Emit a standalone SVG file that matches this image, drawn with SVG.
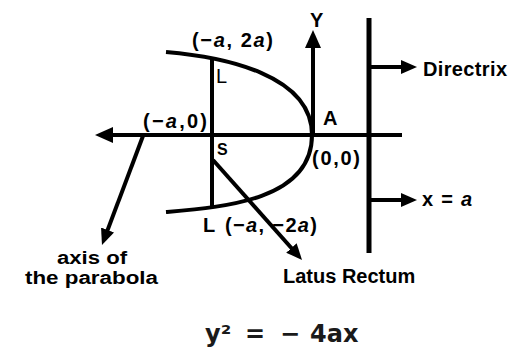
<svg xmlns="http://www.w3.org/2000/svg" width="515" height="351" viewBox="0 0 515 351">
<style>
.ln{stroke:#000;stroke-width:4;fill:none}
.lb{font-family:"Liberation Sans",Arial,sans-serif;font-weight:bold;font-size:20px;fill:#000}
.sm{font-size:18px}
.it{font-style:italic}
.eq{font-family:"DejaVu Sans",Verdana,sans-serif;font-weight:bold;font-size:24px;fill:#1a1a1a}
</style>
<defs>
<marker id="ah" markerUnits="userSpaceOnUse" markerWidth="17" markerHeight="14" refX="6" refY="7" orient="auto">
<path d="M0,0 L16,7 L0,14 Z" fill="#000"/>
</marker>
<marker id="ahb" markerUnits="userSpaceOnUse" markerWidth="19" markerHeight="16" refX="8" refY="8" orient="auto">
<path d="M0,0 L18,8 L0,16 Z" fill="#000"/>
</marker>
</defs>
<rect width="515" height="351" fill="#fff"/>
<g id="connectors">
<path class="ln" d="M402,135 L105,135" marker-end="url(#ahb)"/>
<path class="ln" d="M313,137 L313,40" marker-end="url(#ahb)"/>
<path class="ln" d="M143,136 L105.5,235.6" marker-end="url(#ah)"/>
<path class="ln" d="M213,160 L295.4,252.5" marker-end="url(#ah)"/>
<path class="ln" d="M369,67 L407,67" marker-end="url(#ah)"/>
<path class="ln" d="M369,200 L407,200" marker-end="url(#ah)"/>
</g>
<g id="parabola">
<path class="ln" d="M166,52 C225,57 312,75 312,135 C312,200 225,207 166,212"/>
</g>
<g id="latus-rectum-line">
<path class="ln" d="M212,57 L212,208"/>
</g>
<g id="directrix-line">
<path class="ln" style="stroke-width:5" d="M369,18 L369,253"/>
</g>
<g id="labels">
<text class="lb" x="310" y="27">Y</text>
<text class="lb" x="192" y="47" textLength="81">(−<tspan class="it">a</tspan>, 2<tspan class="it">a</tspan>)</text>
<text class="lb" x="216" y="83" style="font-weight:normal">L</text>
<text class="lb" x="143" y="128" textLength="64">(−<tspan class="it">a</tspan>,0)</text>
<text class="lb" x="217" y="155" style="font-size:16px">S</text>
<text class="lb" x="323" y="125">A</text>
<text class="lb" x="312" y="165" textLength="48">(0,0)</text>
<text class="lb" x="203" y="232">L</text>
<text class="lb" x="225" y="232" textLength="92">(−<tspan class="it">a</tspan>, −2<tspan class="it">a</tspan>)</text>
<text class="lb" x="423" y="76" textLength="84">Directrix</text>
<text class="lb" x="422" y="206" textLength="50">x = <tspan class="it">a</tspan></text>
<text class="lb sm" x="57" y="263.5" textLength="70" lengthAdjust="spacingAndGlyphs">axis of</text>
<text class="lb sm" x="25" y="284" textLength="133" lengthAdjust="spacingAndGlyphs">the parabola</text>
<text class="lb" x="283" y="283">Latus Rectum</text>
</g>
<g id="equation">
<text class="eq" y="342"><tspan x="205">y²</tspan><tspan x="245">=</tspan><tspan x="280">−</tspan><tspan x="310">4ax</tspan></text>
</g>
</svg>
